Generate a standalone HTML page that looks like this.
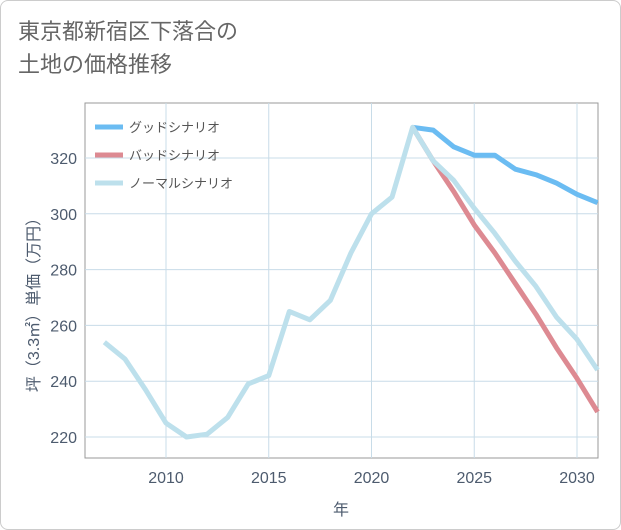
<!DOCTYPE html>
<html><head><meta charset="utf-8"><style>
body{margin:0;background:#fff;}
#wrap{position:relative;width:619px;height:528px;border:1px solid #ccc;border-radius:8px;background:#fff;overflow:hidden;font-family:"Liberation Sans","Noto Sans CJK JP",sans-serif;}
#title{position:absolute;left:17px;top:14px;font-size:22px;line-height:33px;color:#666;}
svg{position:absolute;left:0;top:0;}
</style></head><body>
<div id="wrap">
<div id="title">東京都新宿区下落合の<br>土地の価格推移</div>
<svg id="chart" width="621" height="530"></svg>
</div>
<script>
const years=[2007,2008,2009,2010,2011,2012,2013,2014,2015,2016,2017,2018,2019,2020,2021,2022,2023,2024,2025,2026,2027,2028,2029,2030,2031];
const normal=[254,248,237,225,220,221,227,239,242,265,262,269,286,300,306,331,319,312,302,293,283,274,263,255,244];
const goodYears=[2022,2023,2024,2025,2026,2027,2028,2029,2030,2031];
const good=[331,330,324,321,321,316,314,311,307,304];
const bad=[331,319,308,296,286,275,264,252,241,229];
const xTicks=[2010,2015,2020,2025,2030];
const yTicks=[220,240,260,280,300,320];
const NS="http://www.w3.org/2000/svg";
const svg=document.getElementById('chart');
const L=84,R=597,T=102,B=457;
const x=v=>165+(v-2010)*(576-165)/20;
const y=v=>436-(v-220)*(436-157)/100;
function mk(t,a){const e=document.createElementNS(NS,t);for(const k in a)e.setAttribute(k,a[k]);svg.appendChild(e);return e;}
const frame=mk('rect',{x:L,y:T,width:R-L,height:B-T,fill:'none',stroke:'#999','stroke-width':1});


xTicks.forEach(t=>{
 const g=mk('line',{x1:x(t),x2:x(t),y1:T,y2:B,stroke:'#c8dce8','stroke-width':1});
 
 
 const l=mk('text',{x:x(t),y:482,'text-anchor':'middle','font-size':16,fill:'#4d5b6e'});
 l.textContent=t;
 
 
});
yTicks.forEach(t=>{
 const g=mk('line',{x1:L,x2:R,y1:y(t),y2:y(t),stroke:'#c8dce8','stroke-width':1});
 
 
 const l=mk('text',{x:76,y:y(t)+6,'text-anchor':'end','font-size':16,fill:'#4d5b6e'});
 l.textContent=t;
 
 
});
function line(xs,vs,color,name){
 const p=mk('polyline',{points:xs.map((v,i)=>x(v)+','+y(vs[i])).join(' '),fill:'none',stroke:color,'stroke-width':5,'stroke-linejoin':'round'});
 
 
}
line(goodYears,good,'#6bbcf2','good-scenario-line');
line(goodYears,bad,'#dd8a92','bad-scenario-line');
line(years,normal,'#bde0ec','normal-scenario-line');
const leg=[['グッドシナリオ','#6bbcf2'],['バッドシナリオ','#dd8a92'],['ノーマルシナリオ','#bde0ec']];
leg.forEach((l,i)=>{
 const yy=126+i*28;
 const s=mk('line',{x1:94,x2:122,y1:yy,y2:yy,stroke:l[1],'stroke-width':5});
 
 
 const t=mk('text',{x:128,y:yy+5,'font-size':13,fill:'#555'});
 t.textContent=l[0];
 
 
});
const xt=mk('text',{x:340,y:514,'text-anchor':'middle','font-size':16,fill:'#4d5b6e'});
xt.textContent='年';


const yt=mk('text',{x:0,y:0,'text-anchor':'middle','font-size':16,fill:'#4d5b6e',transform:'translate(38,300) rotate(-90)'});
yt.textContent='坪（3.3㎡）単価（万円）';


</script>
</body></html>
